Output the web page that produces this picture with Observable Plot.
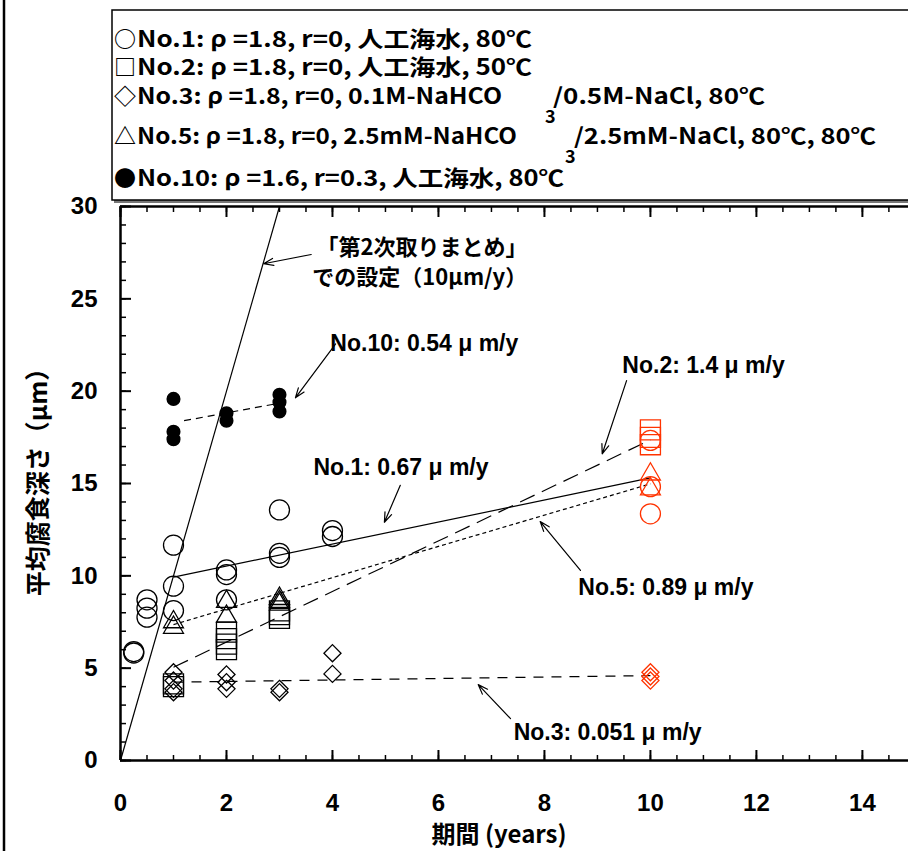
<!DOCTYPE html>
<html><head><meta charset="utf-8">
<script src="https://cdn.jsdelivr.net/npm/d3@7"></script>
<script src="https://cdn.jsdelivr.net/npm/@observablehq/plot@0.6"></script>
<style>
body{margin:0;background:#fff}
#chart{position:relative;width:908px;height:851px;overflow:hidden;background:#fff}
</style>
</head><body><div id="chart"></div>
<script>
// ---------- data (years, µm) ----------
const no1 = [[0.25,5.82],[0.25,5.9],[0.5,8.7],[0.5,8.25],[0.5,7.76],[1,11.66],[1,9.44],[1,8.12],[2,10.32],[2,10.07],[2,8.7],[3,13.57],[3,11.22],[3,11.0],[4,12.45],[4,12.13],[10,17.33],[10,14.83],[10,13.36]];
const no2 = [[1,4.15],[1,4.0],[2,6.95],[2,6.6],[2,6.3],[2,6.0],[3,8.1],[3,7.9],[3,7.7],[10,17.9],[10,17.5],[10,17.1]];
const no3 = [[1,4.78],[1,4.33],[1,3.88],[1,3.7],[2,4.66],[2,4.24],[2,3.88],[3,3.88],[3,3.7],[4,5.81],[4,4.69],[10,4.78],[10,4.55],[10,4.33]];
const no5 = [[1,7.5],[1,7.2],[2,8.6],[2,7.8],[3,8.77],[3,8.6],[3,8.45],[10,15.5],[10,14.7]];
const no10 = [[1,19.58],[1,17.8],[1,17.4],[2,18.8],[2,18.4],[3,19.8],[3,19.4],[3,18.9]];

// fitted lines: start/end points
const fitNames = ["design","no10","no1","no5","no2","no3"];
const fitX1 = [0, 1.2, 1, 1, 1, 1];
const fitY1 = [0, 18.4, 9.93, 7.36, 5.05, 4.24];
const fitX2 = [3, 3, 10, 10, 10, 10];
const fitY2 = [30, 19.35, 15.3, 14.98, 17.36, 4.6];
const fitDash = [null, "7,5", null, "4,3", "16,8", "10,8"];

// annotations
const noteText = ["No.10: 0.54 μ m/y","No.2: 1.4 μ m/y","No.1: 0.67 μ m/y","No.5: 0.89 μ m/y","No.3: 0.051 μ m/y"];
const noteX = [3.96, 9.47, 3.64, 8.64, 7.42];
const noteY = [22.58, 21.39, 15.86, 9.37, 1.53];
const jpText = ["「第2次取りまとめ」","での設定（10μm/y）"];
const jpX = [3.70, 3.62];
const jpY = [27.77, 26.15];
const arrowX1 = [3.6, 4.06, 9.55, 5.28, 8.68, 7.36];
const arrowY1 = [27.4, 22.56, 20.57, 14.9, 10.29, 2.27];
const arrowX2 = [2.7, 3.30, 9.09, 4.98, 7.92, 6.75];
const arrowY2 = [26.9, 19.64, 16.6, 12.9, 12.94, 4.11];

// axes
const xMajor = [0,2,4,6,8,10,12,14];
const xMinor = d3.range(0, 15, 0.5);
const yMajor = [0,5,10,15,20,25,30];
const yMinor = d3.range(0, 31, 1);
const xTitle = "期間 (years)";
const yTitle = "平均腐食深さ（μm）";

// legend
const legendSymbols = ["○","□","◇","△","●"];
const legendMain = ["No.1: ρ =1.8, r=0, 人工海水, 80℃","No.2: ρ =1.8, r=0, 人工海水, 50℃","No.3: ρ =1.8, r=0, 0.1M-NaHCO","No.5: ρ =1.8, r=0, 2.5mM-NaHCO","No.10: ρ =1.6, r=0.3, 人工海水, 80℃"];
const legendSub = [null, null, "3", "3", null];
const legendTail = [null, null, "/0.5M-NaCl, 80℃", "/2.5mM-NaCl, 80℃, 80℃", null];

// ---------- styling ----------
const RED = "#ff3300";
const JP = "'Noto Sans CJK JP', sans-serif";
const LAT = "'Liberation Sans', Arial, sans-serif";
const strokeOf = d => d[0] >= 10 ? RED : "black";

const fits = fitNames.map((n,i)=>({n, x1:fitX1[i], y1:fitY1[i], x2:fitX2[i], y2:fitY2[i], dash:fitDash[i]}));
const notes = noteText.map((t,i)=>({t, x:noteX[i], y:noteY[i]}));
const jps = jpText.map((t,i)=>({t, x:jpX[i], y:jpY[i]}));
const arrows = arrowX1.map((v,i)=>({x1:v, y1:arrowY1[i], x2:arrowX2[i], y2:arrowY2[i]}));

function decorMark() {
  const g = d3.create("svg:g").attr("text-anchor", "start");
  g.append("line").attr("x1",4).attr("x2",4).attr("y1",0).attr("y2",851)
    .attr("stroke","#000").attr("stroke-width",2.5);
  // axis titles
  g.append("text").attr("transform","translate(499,832)").attr("text-anchor","middle")
    .attr("dominant-baseline","central").attr("font-family",JP).attr("font-weight","bold")
    .attr("font-size",24).attr("fill","#000").text(xTitle);
  g.append("text").attr("transform","translate(36,476) rotate(-90)").attr("text-anchor","middle")
    .attr("dominant-baseline","central").attr("font-family",JP).attr("font-weight","bold")
    .attr("font-size",25).attr("fill","#000").text(yTitle);
  // legend box
  g.append("rect").attr("x",114).attr("y",12).attr("width",820).attr("height",191).attr("fill","#777");
  g.append("rect").attr("x",112).attr("y",10).attr("width",820).attr("height",190)
    .attr("fill","#fff").attr("stroke","#000").attr("stroke-width",1.5);
  const base = [47, 75, 104, 144, 186];
  const mainLen = [395, 395, 365, 380, 427];
  const subX = [0, 0, 545, 565, 0];
  const tailX = [0, 0, 553, 574, 0];
  const tailLen = [0, 0, 212, 302, 0];
  legendMain.forEach((t,i)=>{
    const tg = g.append("g").attr("font-family", JP).attr("font-weight","bold").attr("font-size",22).attr("fill","#000");
    tg.append("text").attr("x",114).attr("y",base[i]).attr("font-size",22).text(legendSymbols[i]);
    tg.append("text").attr("x",137).attr("y",base[i]).attr("textLength",mainLen[i]).attr("lengthAdjust","spacingAndGlyphs").text(t);
    if (legendSub[i]) {
      tg.append("text").attr("x",subX[i]).attr("y",base[i]+19).attr("font-size",18).text(legendSub[i]);
      tg.append("text").attr("x",tailX[i]).attr("y",base[i]).attr("textLength",tailLen[i]).attr("lengthAdjust","spacingAndGlyphs").text(legendTail[i]);
    }
  });
  return g.node();
}

const blank = () => "";
const chart = Plot.plot({
  width: 908, height: 851,
  marginTop: 206, marginBottom: 91, marginLeft: 120, marginRight: 0,
  x: {domain: [0, 14.87]},
  y: {domain: [0, 30]},
  style: {background: "white", overflow: "visible"},
  marks: [
    // ticks (inward)
    Plot.axisX({ticks: xMinor, tickSize: -5, tickFormat: blank, label: null, strokeWidth: 1.5}),
    Plot.axisX({ticks: xMajor, tickSize: -10, tickFormat: blank, label: null, strokeWidth: 2}),
    Plot.axisX({anchor: "top", ticks: xMinor, tickSize: -5, tickFormat: blank, label: null, strokeWidth: 1.5}),
    Plot.axisX({anchor: "top", ticks: xMajor, tickSize: -10, tickFormat: blank, label: null, strokeWidth: 2}),
    Plot.axisY({ticks: yMinor, tickSize: -6, tickFormat: blank, label: null, strokeWidth: 1.5}),
    Plot.axisY({ticks: yMajor, tickSize: -11, tickFormat: blank, label: null, strokeWidth: 2}),
    // tick labels
    Plot.axisX({ticks: xMajor, tickSize: 0, tickPadding: 33, label: null, fontSize: 24, fontWeight: "bold", fontFamily: LAT, fill: "black"}),
    Plot.axisY({ticks: yMajor, tickSize: 0, tickPadding: 23, label: null, fontSize: 24, fontWeight: "bold", fontFamily: LAT, fill: "black"}),
    // frame lines
    Plot.ruleX([0], {strokeWidth: 2.5}),
    Plot.ruleY([0, 30], {strokeWidth: 2.5}),
    // fitted lines
    ...fits.map(f => Plot.link([f], {x1: "x1", y1: "y1", x2: "x2", y2: "y2", stroke: "black", strokeWidth: 1.2, strokeDasharray: f.dash})),
    // data points
    Plot.dot(no1, {x: "0", y: "1", r: 10, stroke: strokeOf, strokeWidth: 1.3, fill: "none"}),
    Plot.dot(no2, {x: "0", y: "1", r: 11.3, symbol: "square", stroke: strokeOf, strokeWidth: 1.3, fill: "none"}),
    Plot.dot(no3, {x: "0", y: "1", r: 7.7, symbol: "diamond2", stroke: strokeOf, strokeWidth: 1.3, fill: "none"}),
    Plot.dot(no5, {x: "0", y: "1", r: 7.4, symbol: "triangle", stroke: strokeOf, strokeWidth: 1.3, fill: "none"}),
    Plot.dot(no10, {x: "0", y: "1", r: 6.3, fill: "black", stroke: "black"}),
    // annotations
    Plot.arrow(arrows, {x1: "x1", y1: "y1", x2: "x2", y2: "y2", stroke: "black", strokeWidth: 1.2, headLength: 13, headAngle: 40, bend: 0}),
    Plot.text(notes, {x: "x", y: "y", text: "t", textAnchor: "start", fontSize: 23, fontWeight: "bold", fontFamily: LAT, fill: "black"}),
    Plot.text(jps, {x: "x", y: "y", text: "t", textAnchor: "start", fontSize: 22, fontWeight: "bold", fontFamily: JP, fill: "black"}),
    decorMark
  ]
});
document.getElementById("chart").appendChild(chart);
</script>
</body></html>
